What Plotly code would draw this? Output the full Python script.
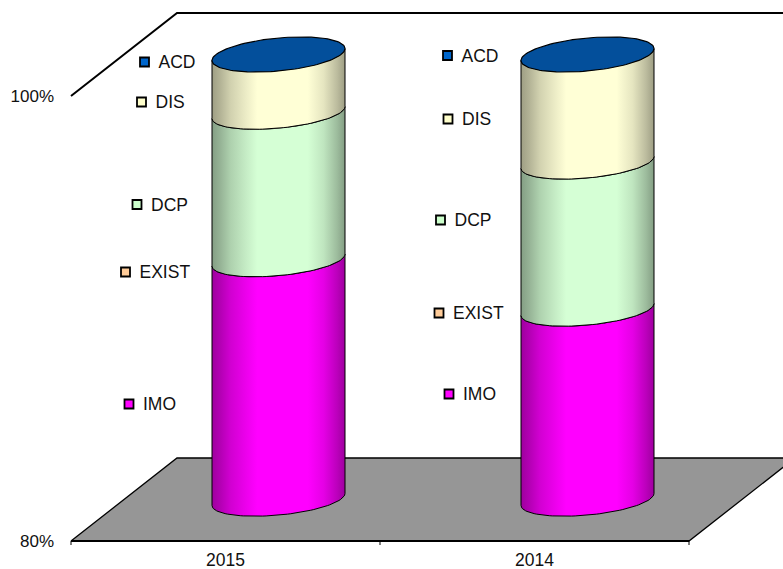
import numpy as np
import plotly.graph_objects as go

# ---- data (percent of total, stacked bottom to top) ----
categories = ["2015", "2014"]
series_names = ["IMO", "EXIST", "DCP", "DIS", "ACD"]
imo_values = [90.76, 88.54]
exist_values = [0.0, 0.0]
dcp_values = [6.63, 6.61]
dis_values = [2.61, 4.85]
acd_values = [0.0, 0.0]
y_tick_values = [80, 100]
y_tick_labels = ["80%", "100%"]

# ---- styling ----
key_colors = {"IMO": "#FF00FF", "EXIST": "#FFCC99", "DCP": "#CCFFCC", "DIS": "#FFFFCC", "ACD": "#0066CC"}
side_colors = {"IMO": (255, 0, 255), "EXIST": (255, 204, 153), "DCP": (213, 255, 213),
               "DIS": (255, 255, 214), "ACD": (0, 102, 204)}
cap_color = "#034F9B"
floor_color = "#969696"
FONT = "Liberation Sans, Arial, sans-serif"
FS = 17.5

# ---- geometry in screen pixels, converted to axis units through the scale ----
W, H = 783, 569
ML, MB = 68, 24
X_UNIT = 309.0         # px per category
Y_UNIT = 22.25         # px per percent
X0_PX, Y80_PX = 225.5, 541.0
DEPTH_X, DEPTH_Y = 106 / X_UNIT, 83 / Y_UNIT
A = 66.5 / X_UNIT      # cylinder half width
B_PX, K_PX = 15.6, 6.0 # ellipse half height, tilt


def px_x(px):
    return (px - X0_PX) / X_UNIT


def px_y(py):
    return 80 + (Y80_PX - py) / Y_UNIT


x_range = [px_x(ML), px_x(W)]
y_range = [px_y(H - MB), px_y(0)]

# data-label anchor pixels (key centre) per category
label_pos = {
    "2015": {"ACD": (144.5, 62), "DIS": (141.5, 102), "DCP": (137, 204.5), "EXIST": (125.5, 272), "IMO": (129, 404)},
    "2014": {"ACD": (447.5, 55.5), "DIS": (448, 119), "DCP": (440.5, 220), "EXIST": (439, 313), "IMO": (449, 394)},
}

fig = go.Figure()


def line(xs, ys, width=2.0):
    fig.add_trace(go.Scatter(x=xs, y=ys, mode="lines", line=dict(color="black", width=width),
                             hoverinfo="skip", showlegend=False))


fx0, fx1 = -0.5, 1.5
# floor
fig.add_trace(go.Scatter(
    x=[fx0, fx0 + DEPTH_X, fx1 + DEPTH_X, fx1, fx0],
    y=[80, 80 + DEPTH_Y, 80 + DEPTH_Y, 80, 80],
    mode="lines", fill="toself", fillcolor=floor_color, line=dict(color="black", width=1.3),
    hoverinfo="skip", showlegend=False))
# front axis with ticks
line([fx0, fx1], [80, 80], 2.2)
tick = 4 / Y_UNIT
for tx in (-0.5, 0.5, 1.5):
    line([tx, tx], [80, 80 - tick], 1.0)
# wall outline
line([fx0, fx0 + DEPTH_X, fx1 + DEPTH_X], [100, 100 + DEPTH_Y, 100 + DEPTH_Y], 2.0)


def shade(rgb):
    stops = [(0.0, 0.62), (0.06, 0.70), (0.14, 0.82), (0.26, 0.93), (0.34, 1.0),
             (0.72, 1.0), (0.84, 0.90), (0.94, 0.74), (1.0, 0.62)]
    return [[p, "rgb(%d,%d,%d)" % tuple(int(c * f) for c in rgb)] for p, f in stops]


def arc_front(cx, value):
    t = np.linspace(np.pi, 0, 60)
    return cx + A * np.cos(t), value + (K_PX * np.cos(t) - B_PX * np.sin(t)) / Y_UNIT


stack = {"IMO": imo_values, "EXIST": exist_values, "DCP": dcp_values, "DIS": dis_values, "ACD": acd_values}

for i, cat in enumerate(categories):
    cx = i + DEPTH_X / 2
    shift = DEPTH_Y / 2        # the columns stand halfway along the floor's depth
    running = 0.0
    bottom = 80.0              # the axis minimum cuts the lowest piece
    for name in series_names:
        v = stack[name][i]
        running += v
        if v > 0:
            x_low, y_low = arc_front(cx, bottom + shift)
            x_up, y_up = arc_front(cx, running + shift)
            fig.add_trace(go.Scatter(
                x=np.r_[x_low, x_up[::-1], x_low[0]],
                y=np.r_[y_low, y_up[::-1], y_low[0]],
                mode="lines", fill="toself",
                fillgradient=dict(type="horizontal", colorscale=shade(side_colors[name])),
                line=dict(color="black", width=1.0),
                hoverinfo="skip", showlegend=False))
            bottom = running
    # top cap
    t = np.linspace(0, 2 * np.pi, 120)
    fig.add_trace(go.Scatter(
        x=cx + A * np.cos(t),
        y=running + shift + (K_PX * np.cos(t) - B_PX * 1.06 * np.sin(t)) / Y_UNIT,
        mode="lines", fill="toself", fillcolor=cap_color, line=dict(color="black", width=1.2),
        hoverinfo="skip", showlegend=False))

# data labels with legend keys
for cat in categories:
    for name in series_names:
        kx, ky = label_pos[cat][name]
        fig.add_trace(go.Scatter(
            x=[px_x(kx)], y=[px_y(ky)], mode="markers", cliponaxis=False,
            marker=dict(symbol="square", size=9, color=key_colors[name], line=dict(color="black", width=1.8)),
            hoverinfo="skip", showlegend=False))
        fig.add_trace(go.Scatter(
            x=[px_x(kx + 14)], y=[px_y(ky + 2)], mode="text", text=[name], textposition="middle right",
            textfont=dict(family=FONT, size=FS, color="#111111"), cliponaxis=False,
            hoverinfo="skip", showlegend=False))

fig.update_layout(
    width=W, height=H, autosize=False,
    margin=dict(l=ML, r=0, t=0, b=MB, pad=0, autoexpand=False),
    paper_bgcolor="white", plot_bgcolor="white", showlegend=False,
    font=dict(family=FONT, size=FS, color="#111111"),
    xaxis=dict(range=x_range, tickmode="array", tickvals=[0, 1], ticktext=categories, automargin=False,
               showgrid=False, zeroline=False, showline=False, ticks="", ticklabelstandoff=2),
    yaxis=dict(range=y_range, tickmode="array", tickvals=y_tick_values, ticktext=y_tick_labels, automargin=False,
               tickfont=dict(size=17), showgrid=False, zeroline=False, showline=False, ticks="",
               ticklabelstandoff=13),
)

fig.write_html("out.html", config={"displayModeBar": False},
               post_script="document.body.style.margin='0';document.documentElement.style.overflow='hidden';")
